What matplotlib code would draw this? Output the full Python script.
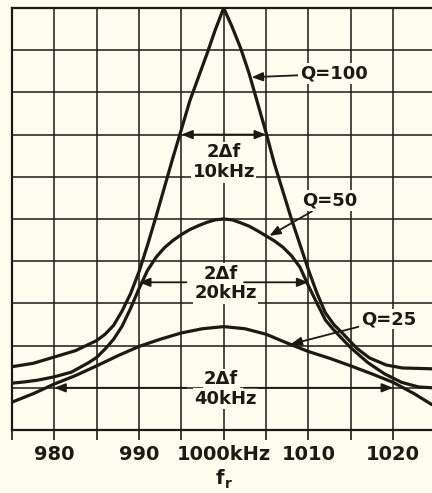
import matplotlib.pyplot as plt

# resonance curves, relative response read at the listed frequencies (kHz)
f_q100 = [975, 977.5, 980, 982.5, 985, 986, 987, 988, 989, 990, 991, 992, 993, 994, 995,
          996, 997, 998, 999, 1000, 1001, 1002, 1003, 1004, 1005, 1006, 1007, 1008, 1009,
          1010, 1011, 1012, 1013, 1014, 1015.7, 1017.2, 1019.2, 1021.1, 1024.6]
v_q100 = [15.0, 15.8, 17.3, 18.8, 21.2, 22.7, 24.8, 28.2, 32.3, 37.5, 43.8, 50.5, 57.5, 64.5, 71.2,
          78.0, 83.5, 89.0, 94.8, 100, 95.5, 90.5, 84.5, 77.5, 70.5, 63.0, 56.5, 50.0, 44.0,
          38.0, 32.5, 27.8, 25.0, 23.0, 19.4, 17.1, 15.4, 14.7, 14.5]

f_q50 = [975, 976.5, 978, 980, 982, 984, 985, 986, 987, 988, 989, 990, 991, 992, 993, 994,
         995, 996, 997, 998, 999, 1000, 1001, 1002, 1003, 1004, 1005, 1006, 1007, 1008, 1009,
         1010, 1011, 1012, 1013, 1014, 1015, 1017, 1019, 1021, 1023, 1024.6]
v_q50 = [11.1, 11.4, 11.8, 12.6, 13.7, 15.9, 17.2, 19.2, 21.5, 24.6, 28.8, 33.5, 37.8, 40.9, 43.2, 44.9,
         46.3, 47.5, 48.4, 49.2, 49.8, 50.0, 49.8, 49.1, 48.3, 47.2, 46.0, 44.8, 43.3, 41.3, 38.6,
         34.2, 30.1, 26.1, 23.7, 21.6, 19.5, 16.0, 13.3, 11.3, 10.2, 10.0]

f_q25 = [975, 977.5, 980, 982.5, 985, 987.5, 990, 992.5, 995, 997.5, 1000,
         1002.5, 1005, 1007.5, 1010, 1012.5, 1015, 1017.5, 1020, 1022.5, 1024.6]
v_q25 = [6.6, 8.6, 10.9, 12.9, 15.2, 17.6, 19.8, 21.5, 23.0, 24.0, 24.5,
         24.0, 22.7, 20.6, 18.6, 17.0, 15.2, 13.3, 11.3, 8.6, 6.0]

f_center = 1000
# half-power bandwidths (kHz) and the level where each is marked
bandwidths = [10, 20, 40]
bw_levels = [70, 35, 10]
bw_text = ['10kHz', '20kHz', '40kHz']

x_ticks = list(range(975, 1025, 5))
x_labels = ['', '980', '', '990', '', '1000kHz', '', '1010', '', '1020']
y_grid = list(range(0, 101, 10))

bg = '#fcfcef'
ink = '#1b1b12'

plt.rcParams['font.family'] = ['DejaVu Sans']
plt.rcParams['font.weight'] = 'bold'

fig = plt.figure(figsize=(4.32, 4.93), dpi=100, facecolor=bg)
ax = fig.add_axes([12 / 432, 63 / 493, 420 / 432, 422 / 493])
ax.set_facecolor(bg)

ax.set_xlim(975, 1024.6)
ax.set_ylim(0, 100)
ax.set_xticks(x_ticks)
ax.set_xticklabels(x_labels)
ax.set_yticks(y_grid)
ax.set_yticklabels([])
ax.tick_params(axis='y', length=0)
ax.tick_params(axis='x', direction='out', length=7, width=1.2, pad=4,
               labelsize=14, colors=ink)
ax.grid(True, color=ink, lw=1.1, zorder=0)
ax.set_axisbelow(True)

for side in ['left', 'top', 'bottom']:
    ax.spines[side].set_color(ink)
    ax.spines[side].set_linewidth(1.6)
ax.spines['right'].set_visible(False)

for f, v in [(f_q100, v_q100), (f_q50, v_q50), (f_q25, v_q25)]:
    ax.plot(f, v, color=ink, lw=2.3, solid_capstyle='round', zorder=5)

box = dict(facecolor=bg, edgecolor='none', pad=1.0)
head = '-|>,head_length=0.55,head_width=0.22'
txt = dict(ha='center', va='center', fontsize=13, color=ink, zorder=4)

# 10 kHz band: double arrow over the label
bw, lv, lab = bandwidths[0], bw_levels[0], bw_text[0]
ax.annotate('', xy=(f_center + bw / 2, lv), xytext=(f_center - bw / 2, lv),
            arrowprops=dict(arrowstyle='<|-|>,head_length=0.55,head_width=0.22',
                            color=ink, lw=1.3, shrinkA=0, shrinkB=0,
                            mutation_scale=12), zorder=6)
ax.text(f_center, lv - 4.2, '2Δf', bbox=box, **txt)
ax.text(f_center, lv - 8.9, lab, bbox=box, **txt)

# 20 and 40 kHz bands: arrows run out from between the label lines
for bw, lv, lab in zip(bandwidths[1:], bw_levels[1:], bw_text[1:]):
    ax.text(f_center - 0.3, lv + 2.0, '2Δf', bbox=box, **txt)
    ax.text(f_center + 0.2, lv - 2.6, lab, bbox=box, **txt)
    ax.annotate('', xy=(f_center - bw / 2, lv), xytext=(f_center - 4.4, lv),
                arrowprops=dict(arrowstyle=head, color=ink, lw=1.3,
                                shrinkA=0, shrinkB=0, mutation_scale=12), zorder=6)
    ax.annotate('', xy=(f_center + bw / 2, lv), xytext=(f_center + 2.4, lv),
                arrowprops=dict(arrowstyle=head, color=ink, lw=1.3,
                                shrinkA=0, shrinkB=0, mutation_scale=12), zorder=6)

# curve names with leader arrows
q_names = ['Q=100', 'Q=50', 'Q=25']
q_tips = [(1003.3, 83.6), (1005.4, 46.0), (1007.9, 20.3)]
q_text = [(1009.0, 84.4), (1009.3, 54.3), (1016.2, 26.3)]
for name, tip, pos in zip(q_names, q_tips, q_text):
    ax.annotate(name, xy=tip, xytext=pos, ha='left', va='center', fontsize=13,
                color=ink, bbox=box, zorder=6,
                arrowprops=dict(arrowstyle=head, color=ink, lw=1.3,
                                shrinkA=0, shrinkB=0, mutation_scale=12))

# resonant frequency symbol under the axis
fig.text(224 / 432, 14 / 493, 'f', ha='right', va='center', fontsize=14, color=ink)
fig.text(225 / 432, 9 / 493, 'r', ha='left', va='center', fontsize=10, color=ink)

fig.savefig('out.png', dpi=100, facecolor=bg)
